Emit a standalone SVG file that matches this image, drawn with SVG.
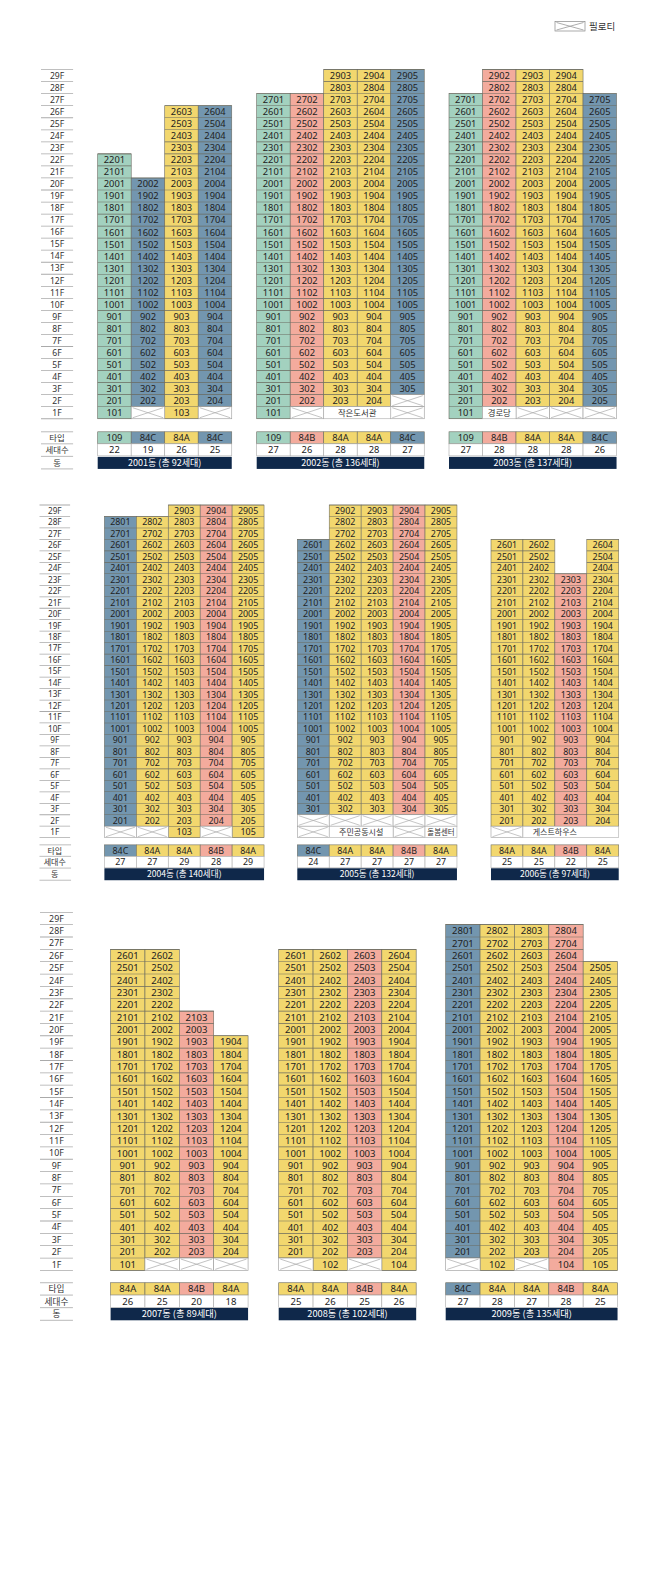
<svg xmlns="http://www.w3.org/2000/svg" width="648" height="1587" viewBox="0 0 648 1587">
<style>
.t{font-family:"Noto Sans","Noto Sans CJK KR",sans-serif;font-size:9.3px;text-anchor:middle;fill:#222}
.l{font-family:"Noto Sans","Noto Sans CJK KR",sans-serif;font-size:8.6px;text-anchor:middle;fill:#333}
.k{font-family:"Noto Sans CJK KR",sans-serif;font-size:8.4px;text-anchor:middle;fill:#333}
.G,.B,.Y,.S{stroke:#6b6b60;stroke-width:.6}
.G{fill:#a3d1bf}.B{fill:#7396af}.Y{fill:#f2d76e}.S{fill:#f3ab9d}
.W{fill:#fff;stroke:#aaa;stroke-width:.6}
.d{stroke:#6b6b60;stroke-width:33.4;stroke-dasharray:.6 11.4}
.n{fill:#0f284a}
.nt{font-family:"Noto Sans CJK KR",sans-serif;font-size:9px;text-anchor:middle;fill:#fff}
.ln{stroke:#aaa;stroke-width:.8;fill:none}
</style>
<defs>
<g id="px"><rect width="33.4" height="12" fill="#fff" stroke="#999" stroke-width=".6"/><path d="M1.5 1L31.9 11M1.5 11L31.9 1" stroke="#aaa" stroke-width=".7" fill="none"/></g>
<g id="fl">
<line x1="16" y1="-.4" x2="16" y2="348.4" stroke="#aaa" stroke-width="32" stroke-dasharray=".8 11.2"/>
<g class="l" transform="translate(16,9.2)"><text>29F</text><text y="12">28F</text><text y="24">27F</text><text y="36">26F</text><text y="48">25F</text><text y="60">24F</text><text y="72">23F</text><text y="84">22F</text><text y="96">21F</text><text y="108">20F</text><text y="120">19F</text><text y="132">18F</text><text y="144">17F</text><text y="156">16F</text><text y="168">15F</text><text y="180">14F</text><text y="192">13F</text><text y="204">12F</text><text y="216">11F</text><text y="228">10F</text><text y="240">9F</text><text y="252">8F</text><text y="264">7F</text><text y="276">6F</text><text y="288">5F</text><text y="300">4F</text><text y="312">3F</text><text y="324">2F</text><text y="336">1F</text></g>
</g>
</defs>

<g id="legend"><rect x="555" y="21.5" width="30" height="9.5" fill="#fff" stroke="#888" stroke-width=".7"/><path d="M556.5 22.5L583.5 30M556.5 30L583.5 22.5" stroke="#999" stroke-width=".8" fill="none"/><text x="589" y="30" font-family="Noto Sans CJK KR,sans-serif" font-size="9.5" fill="#333">필로티</text></g>

<!-- Section 1 labels -->
<g id="floors1" transform="translate(41,69.6) scale(1.0033)">
<use href="#fl"/>
<path class="ln" d="M0 361h32M0 373h32M0 385.5h32M0 398h32"/>
<text class="k" x="16" y="370.2">타입</text><text class="k" x="16" y="382.2">세대수</text><text class="k" x="16" y="395">동</text>
</g>

<g id="b2001" transform="translate(97.7,69.6) scale(1.0033)">
<rect class="G" x="0" y="84" width="33.4" height="264"/>
<rect class="B" x="33.4" y="108" width="33.4" height="228"/>
<rect class="Y" x="66.8" y="36" width="33.4" height="312"/>
<rect class="B" x="100.2" y="36" width="33.4" height="300"/>
<line class="d" x1="16.7" y1="83.7" x2="16.7" y2="348"/>
<line class="d" x1="50.1" y1="107.7" x2="50.1" y2="336"/>
<line class="d" x1="83.5" y1="35.7" x2="83.5" y2="348"/>
<line class="d" x1="116.9" y1="35.7" x2="116.9" y2="336"/>
<use href="#px" x="33.4" y="336"/><use href="#px" x="100.2" y="336"/>
<g class="t">
<g transform="translate(16.7,9.4)"><text y="84">2201</text><text y="96">2101</text><text y="108">2001</text><text y="120">1901</text><text y="132">1801</text><text y="144">1701</text><text y="156">1601</text><text y="168">1501</text><text y="180">1401</text><text y="192">1301</text><text y="204">1201</text><text y="216">1101</text><text y="228">1001</text><text y="240">901</text><text y="252">801</text><text y="264">701</text><text y="276">601</text><text y="288">501</text><text y="300">401</text><text y="312">301</text><text y="324">201</text><text y="336">101</text></g>
<g transform="translate(50.1,9.4)"><text y="108">2002</text><text y="120">1902</text><text y="132">1802</text><text y="144">1702</text><text y="156">1602</text><text y="168">1502</text><text y="180">1402</text><text y="192">1302</text><text y="204">1202</text><text y="216">1102</text><text y="228">1002</text><text y="240">902</text><text y="252">802</text><text y="264">702</text><text y="276">602</text><text y="288">502</text><text y="300">402</text><text y="312">302</text><text y="324">202</text></g>
<g transform="translate(83.5,9.4)"><text y="36">2603</text><text y="48">2503</text><text y="60">2403</text><text y="72">2303</text><text y="84">2203</text><text y="96">2103</text><text y="108">2003</text><text y="120">1903</text><text y="132">1803</text><text y="144">1703</text><text y="156">1603</text><text y="168">1503</text><text y="180">1403</text><text y="192">1303</text><text y="204">1203</text><text y="216">1103</text><text y="228">1003</text><text y="240">903</text><text y="252">803</text><text y="264">703</text><text y="276">603</text><text y="288">503</text><text y="300">403</text><text y="312">303</text><text y="324">203</text><text y="336">103</text></g>
<g transform="translate(116.9,9.4)"><text y="36">2604</text><text y="48">2504</text><text y="60">2404</text><text y="72">2304</text><text y="84">2204</text><text y="96">2104</text><text y="108">2004</text><text y="120">1904</text><text y="132">1804</text><text y="144">1704</text><text y="156">1604</text><text y="168">1504</text><text y="180">1404</text><text y="192">1304</text><text y="204">1204</text><text y="216">1104</text><text y="228">1004</text><text y="240">904</text><text y="252">804</text><text y="264">704</text><text y="276">604</text><text y="288">504</text><text y="300">404</text><text y="312">304</text><text y="324">204</text></g>
</g>
<rect class="G" x="0" y="361" width="33.4" height="12"/><rect class="B" x="33.4" y="361" width="33.4" height="12"/><rect class="Y" x="66.8" y="361" width="33.4" height="12"/><rect class="B" x="100.2" y="361" width="33.4" height="12"/>
<rect class="W" x="0" y="373" width="33.4" height="12"/><rect class="W" x="33.4" y="373" width="33.4" height="12"/><rect class="W" x="66.8" y="373" width="33.4" height="12"/><rect class="W" x="100.2" y="373" width="33.4" height="12"/>
<g class="t"><text x="16.7" y="370.3">109</text><text x="50.1" y="370.3">84C</text><text x="83.5" y="370.3">84A</text><text x="116.9" y="370.3">84C</text>
<text x="16.7" y="382.3">22</text><text x="50.1" y="382.3">19</text><text x="83.5" y="382.3">26</text><text x="116.9" y="382.3">25</text></g>
<rect class="n" x="0" y="386" width="133.6" height="12"/><text class="nt" x="66.8" y="395.2">2001동 (총 92세대)</text>
</g>

<g id="b2002" transform="translate(256.7,69.6) scale(1.0033)">
<rect class="G" x="0" y="24" width="33.4" height="324"/>
<rect class="S" x="33.4" y="24" width="33.4" height="312"/>
<rect class="Y" x="66.8" y="0" width="33.4" height="336"/>
<rect class="Y" x="100.2" y="0" width="33.4" height="336"/>
<rect class="B" x="133.6" y="0" width="33.4" height="324"/>
<line class="d" x1="16.7" y1="23.7" x2="16.7" y2="348"/>
<line class="d" x1="50.1" y1="23.7" x2="50.1" y2="336"/>
<line class="d" x1="83.5" y1="-.3" x2="83.5" y2="336"/>
<line class="d" x1="116.9" y1="-.3" x2="116.9" y2="336"/>
<line class="d" x1="150.3" y1="-.3" x2="150.3" y2="324"/>
<use href="#px" x="33.4" y="336"/><use href="#px" x="133.6" y="324"/><use href="#px" x="133.6" y="336"/>
<rect class="W" x="66.8" y="336" width="66.8" height="12"/><text class="k" x="100.2" y="345.1">작은도서관</text>
<g class="t">
<g transform="translate(16.7,9.4)"><text y="24">2701</text><text y="36">2601</text><text y="48">2501</text><text y="60">2401</text><text y="72">2301</text><text y="84">2201</text><text y="96">2101</text><text y="108">2001</text><text y="120">1901</text><text y="132">1801</text><text y="144">1701</text><text y="156">1601</text><text y="168">1501</text><text y="180">1401</text><text y="192">1301</text><text y="204">1201</text><text y="216">1101</text><text y="228">1001</text><text y="240">901</text><text y="252">801</text><text y="264">701</text><text y="276">601</text><text y="288">501</text><text y="300">401</text><text y="312">301</text><text y="324">201</text><text y="336">101</text></g>
<g transform="translate(50.1,9.4)"><text y="24">2702</text><text y="36">2602</text><text y="48">2502</text><text y="60">2402</text><text y="72">2302</text><text y="84">2202</text><text y="96">2102</text><text y="108">2002</text><text y="120">1902</text><text y="132">1802</text><text y="144">1702</text><text y="156">1602</text><text y="168">1502</text><text y="180">1402</text><text y="192">1302</text><text y="204">1202</text><text y="216">1102</text><text y="228">1002</text><text y="240">902</text><text y="252">802</text><text y="264">702</text><text y="276">602</text><text y="288">502</text><text y="300">402</text><text y="312">302</text><text y="324">202</text></g>
<g transform="translate(83.5,9.4)"><text>2903</text><text y="12">2803</text><text y="24">2703</text><text y="36">2603</text><text y="48">2503</text><text y="60">2403</text><text y="72">2303</text><text y="84">2203</text><text y="96">2103</text><text y="108">2003</text><text y="120">1903</text><text y="132">1803</text><text y="144">1703</text><text y="156">1603</text><text y="168">1503</text><text y="180">1403</text><text y="192">1303</text><text y="204">1203</text><text y="216">1103</text><text y="228">1003</text><text y="240">903</text><text y="252">803</text><text y="264">703</text><text y="276">603</text><text y="288">503</text><text y="300">403</text><text y="312">303</text><text y="324">203</text></g>
<g transform="translate(116.9,9.4)"><text>2904</text><text y="12">2804</text><text y="24">2704</text><text y="36">2604</text><text y="48">2504</text><text y="60">2404</text><text y="72">2304</text><text y="84">2204</text><text y="96">2104</text><text y="108">2004</text><text y="120">1904</text><text y="132">1804</text><text y="144">1704</text><text y="156">1604</text><text y="168">1504</text><text y="180">1404</text><text y="192">1304</text><text y="204">1204</text><text y="216">1104</text><text y="228">1004</text><text y="240">904</text><text y="252">804</text><text y="264">704</text><text y="276">604</text><text y="288">504</text><text y="300">404</text><text y="312">304</text><text y="324">204</text></g>
<g transform="translate(150.3,9.4)"><text>2905</text><text y="12">2805</text><text y="24">2705</text><text y="36">2605</text><text y="48">2505</text><text y="60">2405</text><text y="72">2305</text><text y="84">2205</text><text y="96">2105</text><text y="108">2005</text><text y="120">1905</text><text y="132">1805</text><text y="144">1705</text><text y="156">1605</text><text y="168">1505</text><text y="180">1405</text><text y="192">1305</text><text y="204">1205</text><text y="216">1105</text><text y="228">1005</text><text y="240">905</text><text y="252">805</text><text y="264">705</text><text y="276">605</text><text y="288">505</text><text y="300">405</text><text y="312">305</text></g>
</g>
<rect class="G" x="0" y="361" width="33.4" height="12"/><rect class="S" x="33.4" y="361" width="33.4" height="12"/><rect class="Y" x="66.8" y="361" width="33.4" height="12"/><rect class="Y" x="100.2" y="361" width="33.4" height="12"/><rect class="B" x="133.6" y="361" width="33.4" height="12"/>
<rect class="W" x="0" y="373" width="33.4" height="12"/><rect class="W" x="33.4" y="373" width="33.4" height="12"/><rect class="W" x="66.8" y="373" width="33.4" height="12"/><rect class="W" x="100.2" y="373" width="33.4" height="12"/><rect class="W" x="133.6" y="373" width="33.4" height="12"/>
<g class="t"><text x="16.7" y="370.3">109</text><text x="50.1" y="370.3">84B</text><text x="83.5" y="370.3">84A</text><text x="116.9" y="370.3">84A</text><text x="150.3" y="370.3">84C</text>
<text x="16.7" y="382.3">27</text><text x="50.1" y="382.3">26</text><text x="83.5" y="382.3">28</text><text x="116.9" y="382.3">28</text><text x="150.3" y="382.3">27</text></g>
<rect class="n" x="0" y="386" width="167" height="12"/><text class="nt" x="83.5" y="395.2">2002동 (총 136세대)</text>
</g>

<g id="b2003" transform="translate(449,69.6) scale(1.0033)">
<rect class="G" x="0" y="24" width="33.4" height="324"/>
<rect class="S" x="33.4" y="0" width="33.4" height="336"/>
<rect class="Y" x="66.8" y="0" width="33.4" height="336"/>
<rect class="Y" x="100.2" y="0" width="33.4" height="336"/>
<rect class="B" x="133.6" y="24" width="33.4" height="312"/>
<line class="d" x1="16.7" y1="23.7" x2="16.7" y2="348"/>
<line class="d" x1="50.1" y1="-.3" x2="50.1" y2="336"/>
<line class="d" x1="83.5" y1="-.3" x2="83.5" y2="336"/>
<line class="d" x1="116.9" y1="-.3" x2="116.9" y2="336"/>
<line class="d" x1="150.3" y1="23.7" x2="150.3" y2="336"/>
<use href="#px" x="66.8" y="336"/><use href="#px" x="100.2" y="336"/><use href="#px" x="133.6" y="336"/>
<rect class="W" x="33.4" y="336" width="33.4" height="12"/><text class="k" x="50.1" y="345.1">경로당</text>
<g class="t">
<g transform="translate(16.7,9.4)"><text y="24">2701</text><text y="36">2601</text><text y="48">2501</text><text y="60">2401</text><text y="72">2301</text><text y="84">2201</text><text y="96">2101</text><text y="108">2001</text><text y="120">1901</text><text y="132">1801</text><text y="144">1701</text><text y="156">1601</text><text y="168">1501</text><text y="180">1401</text><text y="192">1301</text><text y="204">1201</text><text y="216">1101</text><text y="228">1001</text><text y="240">901</text><text y="252">801</text><text y="264">701</text><text y="276">601</text><text y="288">501</text><text y="300">401</text><text y="312">301</text><text y="324">201</text><text y="336">101</text></g>
<g transform="translate(50.1,9.4)"><text>2902</text><text y="12">2802</text><text y="24">2702</text><text y="36">2602</text><text y="48">2502</text><text y="60">2402</text><text y="72">2302</text><text y="84">2202</text><text y="96">2102</text><text y="108">2002</text><text y="120">1902</text><text y="132">1802</text><text y="144">1702</text><text y="156">1602</text><text y="168">1502</text><text y="180">1402</text><text y="192">1302</text><text y="204">1202</text><text y="216">1102</text><text y="228">1002</text><text y="240">902</text><text y="252">802</text><text y="264">702</text><text y="276">602</text><text y="288">502</text><text y="300">402</text><text y="312">302</text><text y="324">202</text></g>
<g transform="translate(83.5,9.4)"><text>2903</text><text y="12">2803</text><text y="24">2703</text><text y="36">2603</text><text y="48">2503</text><text y="60">2403</text><text y="72">2303</text><text y="84">2203</text><text y="96">2103</text><text y="108">2003</text><text y="120">1903</text><text y="132">1803</text><text y="144">1703</text><text y="156">1603</text><text y="168">1503</text><text y="180">1403</text><text y="192">1303</text><text y="204">1203</text><text y="216">1103</text><text y="228">1003</text><text y="240">903</text><text y="252">803</text><text y="264">703</text><text y="276">603</text><text y="288">503</text><text y="300">403</text><text y="312">303</text><text y="324">203</text></g>
<g transform="translate(116.9,9.4)"><text>2904</text><text y="12">2804</text><text y="24">2704</text><text y="36">2604</text><text y="48">2504</text><text y="60">2404</text><text y="72">2304</text><text y="84">2204</text><text y="96">2104</text><text y="108">2004</text><text y="120">1904</text><text y="132">1804</text><text y="144">1704</text><text y="156">1604</text><text y="168">1504</text><text y="180">1404</text><text y="192">1304</text><text y="204">1204</text><text y="216">1104</text><text y="228">1004</text><text y="240">904</text><text y="252">804</text><text y="264">704</text><text y="276">604</text><text y="288">504</text><text y="300">404</text><text y="312">304</text><text y="324">204</text></g>
<g transform="translate(150.3,9.4)"><text y="24">2705</text><text y="36">2605</text><text y="48">2505</text><text y="60">2405</text><text y="72">2305</text><text y="84">2205</text><text y="96">2105</text><text y="108">2005</text><text y="120">1905</text><text y="132">1805</text><text y="144">1705</text><text y="156">1605</text><text y="168">1505</text><text y="180">1405</text><text y="192">1305</text><text y="204">1205</text><text y="216">1105</text><text y="228">1005</text><text y="240">905</text><text y="252">805</text><text y="264">705</text><text y="276">605</text><text y="288">505</text><text y="300">405</text><text y="312">305</text><text y="324">205</text></g>
</g>
<rect class="G" x="0" y="361" width="33.4" height="12"/><rect class="S" x="33.4" y="361" width="33.4" height="12"/><rect class="Y" x="66.8" y="361" width="33.4" height="12"/><rect class="Y" x="100.2" y="361" width="33.4" height="12"/><rect class="B" x="133.6" y="361" width="33.4" height="12"/>
<rect class="W" x="0" y="373" width="33.4" height="12"/><rect class="W" x="33.4" y="373" width="33.4" height="12"/><rect class="W" x="66.8" y="373" width="33.4" height="12"/><rect class="W" x="100.2" y="373" width="33.4" height="12"/><rect class="W" x="133.6" y="373" width="33.4" height="12"/>
<g class="t"><text x="16.7" y="370.3">109</text><text x="50.1" y="370.3">84B</text><text x="83.5" y="370.3">84A</text><text x="116.9" y="370.3">84A</text><text x="150.3" y="370.3">84C</text>
<text x="16.7" y="382.3">27</text><text x="50.1" y="382.3">28</text><text x="83.5" y="382.3">28</text><text x="116.9" y="382.3">28</text><text x="150.3" y="382.3">26</text></g>
<rect class="n" x="0" y="386" width="167" height="12"/><text class="nt" x="83.5" y="395.2">2003동 (총 137세대)</text>
</g>

<!-- Section 2 -->
<g id="floors2" transform="translate(39.5,505) scale(.956)">
<use href="#fl"/>
<path class="ln" d="M0 355.5h33M0 367.5h33M0 379.8h33M0 392.5h33"/>
<text class="k" x="16" y="364.7">타입</text><text class="k" x="16" y="376.7">세대수</text><text class="k" x="16" y="389.3">동</text>
</g>

<g id="b2004" transform="translate(104.4,505) scale(.956)">
<rect class="B" x="0" y="12" width="33.4" height="324"/>
<rect class="Y" x="33.4" y="12" width="33.4" height="324"/>
<rect class="Y" x="66.8" y="0" width="33.4" height="348"/>
<rect class="S" x="100.2" y="0" width="33.4" height="336"/>
<rect class="Y" x="133.6" y="0" width="33.4" height="348"/>
<line class="d" x1="16.7" y1="11.7" x2="16.7" y2="336"/>
<line class="d" x1="50.1" y1="11.7" x2="50.1" y2="336"/>
<line class="d" x1="83.5" y1="-.3" x2="83.5" y2="348"/>
<line class="d" x1="116.9" y1="-.3" x2="116.9" y2="336"/>
<line class="d" x1="150.3" y1="-.3" x2="150.3" y2="348"/>
<use href="#px" x="0" y="336"/><use href="#px" x="33.4" y="336"/><use href="#px" x="100.2" y="336"/>
<g class="t">
<g transform="translate(16.7,9.4)"><text y="12">2801</text><text y="24">2701</text><text y="36">2601</text><text y="48">2501</text><text y="60">2401</text><text y="72">2301</text><text y="84">2201</text><text y="96">2101</text><text y="108">2001</text><text y="120">1901</text><text y="132">1801</text><text y="144">1701</text><text y="156">1601</text><text y="168">1501</text><text y="180">1401</text><text y="192">1301</text><text y="204">1201</text><text y="216">1101</text><text y="228">1001</text><text y="240">901</text><text y="252">801</text><text y="264">701</text><text y="276">601</text><text y="288">501</text><text y="300">401</text><text y="312">301</text><text y="324">201</text></g>
<g transform="translate(50.1,9.4)"><text y="12">2802</text><text y="24">2702</text><text y="36">2602</text><text y="48">2502</text><text y="60">2402</text><text y="72">2302</text><text y="84">2202</text><text y="96">2102</text><text y="108">2002</text><text y="120">1902</text><text y="132">1802</text><text y="144">1702</text><text y="156">1602</text><text y="168">1502</text><text y="180">1402</text><text y="192">1302</text><text y="204">1202</text><text y="216">1102</text><text y="228">1002</text><text y="240">902</text><text y="252">802</text><text y="264">702</text><text y="276">602</text><text y="288">502</text><text y="300">402</text><text y="312">302</text><text y="324">202</text></g>
<g transform="translate(83.5,9.4)"><text>2903</text><text y="12">2803</text><text y="24">2703</text><text y="36">2603</text><text y="48">2503</text><text y="60">2403</text><text y="72">2303</text><text y="84">2203</text><text y="96">2103</text><text y="108">2003</text><text y="120">1903</text><text y="132">1803</text><text y="144">1703</text><text y="156">1603</text><text y="168">1503</text><text y="180">1403</text><text y="192">1303</text><text y="204">1203</text><text y="216">1103</text><text y="228">1003</text><text y="240">903</text><text y="252">803</text><text y="264">703</text><text y="276">603</text><text y="288">503</text><text y="300">403</text><text y="312">303</text><text y="324">203</text><text y="336">103</text></g>
<g transform="translate(116.9,9.4)"><text>2904</text><text y="12">2804</text><text y="24">2704</text><text y="36">2604</text><text y="48">2504</text><text y="60">2404</text><text y="72">2304</text><text y="84">2204</text><text y="96">2104</text><text y="108">2004</text><text y="120">1904</text><text y="132">1804</text><text y="144">1704</text><text y="156">1604</text><text y="168">1504</text><text y="180">1404</text><text y="192">1304</text><text y="204">1204</text><text y="216">1104</text><text y="228">1004</text><text y="240">904</text><text y="252">804</text><text y="264">704</text><text y="276">604</text><text y="288">504</text><text y="300">404</text><text y="312">304</text><text y="324">204</text></g>
<g transform="translate(150.3,9.4)"><text>2905</text><text y="12">2805</text><text y="24">2705</text><text y="36">2605</text><text y="48">2505</text><text y="60">2405</text><text y="72">2305</text><text y="84">2205</text><text y="96">2105</text><text y="108">2005</text><text y="120">1905</text><text y="132">1805</text><text y="144">1705</text><text y="156">1605</text><text y="168">1505</text><text y="180">1405</text><text y="192">1305</text><text y="204">1205</text><text y="216">1105</text><text y="228">1005</text><text y="240">905</text><text y="252">805</text><text y="264">705</text><text y="276">605</text><text y="288">505</text><text y="300">405</text><text y="312">305</text><text y="324">205</text><text y="336">105</text></g>
</g>
<rect class="B" x="0" y="355.5" width="33.4" height="12"/><rect class="Y" x="33.4" y="355.5" width="33.4" height="12"/><rect class="Y" x="66.8" y="355.5" width="33.4" height="12"/><rect class="S" x="100.2" y="355.5" width="33.4" height="12"/><rect class="Y" x="133.6" y="355.5" width="33.4" height="12"/>
<rect class="W" x="0" y="367.5" width="33.4" height="12"/><rect class="W" x="33.4" y="367.5" width="33.4" height="12"/><rect class="W" x="66.8" y="367.5" width="33.4" height="12"/><rect class="W" x="100.2" y="367.5" width="33.4" height="12"/><rect class="W" x="133.6" y="367.5" width="33.4" height="12"/>
<g class="t"><text x="16.7" y="364.8">84C</text><text x="50.1" y="364.8">84A</text><text x="83.5" y="364.8">84A</text><text x="116.9" y="364.8">84B</text><text x="150.3" y="364.8">84A</text>
<text x="16.7" y="376.8">27</text><text x="50.1" y="376.8">27</text><text x="83.5" y="376.8">29</text><text x="116.9" y="376.8">28</text><text x="150.3" y="376.8">29</text></g>
<rect class="n" x="0" y="380" width="167" height="12.5"/><text class="nt" x="83.5" y="389.4">2004동 (총 140세대)</text>
</g>

<g id="b2005" transform="translate(297.3,505) scale(.956)">
<rect class="B" x="0" y="36" width="33.4" height="288"/>
<rect class="Y" x="33.4" y="0" width="33.4" height="324"/>
<rect class="Y" x="66.8" y="0" width="33.4" height="324"/>
<rect class="S" x="100.2" y="0" width="33.4" height="324"/>
<rect class="Y" x="133.6" y="0" width="33.4" height="324"/>
<line class="d" x1="16.7" y1="35.7" x2="16.7" y2="324"/>
<line class="d" x1="50.1" y1="-.3" x2="50.1" y2="324"/>
<line class="d" x1="83.5" y1="-.3" x2="83.5" y2="324"/>
<line class="d" x1="116.9" y1="-.3" x2="116.9" y2="324"/>
<line class="d" x1="150.3" y1="-.3" x2="150.3" y2="324"/>
<use href="#px" x="0" y="324"/><use href="#px" x="33.4" y="324"/><use href="#px" x="66.8" y="324"/><use href="#px" x="100.2" y="324"/><use href="#px" x="133.6" y="324"/>
<use href="#px" x="0" y="336"/><use href="#px" x="100.2" y="336"/>
<rect class="W" x="33.4" y="336" width="66.8" height="12"/><text class="k" x="66.8" y="345.1">주민공동시설</text>
<rect class="W" x="133.6" y="336" width="33.4" height="12"/><text class="k" x="150.3" y="345.1" style="font-size:7.8px">돌봄센터</text>
<g class="t">
<g transform="translate(16.7,9.4)"><text y="36">2601</text><text y="48">2501</text><text y="60">2401</text><text y="72">2301</text><text y="84">2201</text><text y="96">2101</text><text y="108">2001</text><text y="120">1901</text><text y="132">1801</text><text y="144">1701</text><text y="156">1601</text><text y="168">1501</text><text y="180">1401</text><text y="192">1301</text><text y="204">1201</text><text y="216">1101</text><text y="228">1001</text><text y="240">901</text><text y="252">801</text><text y="264">701</text><text y="276">601</text><text y="288">501</text><text y="300">401</text><text y="312">301</text></g>
<g transform="translate(50.1,9.4)"><text>2902</text><text y="12">2802</text><text y="24">2702</text><text y="36">2602</text><text y="48">2502</text><text y="60">2402</text><text y="72">2302</text><text y="84">2202</text><text y="96">2102</text><text y="108">2002</text><text y="120">1902</text><text y="132">1802</text><text y="144">1702</text><text y="156">1602</text><text y="168">1502</text><text y="180">1402</text><text y="192">1302</text><text y="204">1202</text><text y="216">1102</text><text y="228">1002</text><text y="240">902</text><text y="252">802</text><text y="264">702</text><text y="276">602</text><text y="288">502</text><text y="300">402</text><text y="312">302</text></g>
<g transform="translate(83.5,9.4)"><text>2903</text><text y="12">2803</text><text y="24">2703</text><text y="36">2603</text><text y="48">2503</text><text y="60">2403</text><text y="72">2303</text><text y="84">2203</text><text y="96">2103</text><text y="108">2003</text><text y="120">1903</text><text y="132">1803</text><text y="144">1703</text><text y="156">1603</text><text y="168">1503</text><text y="180">1403</text><text y="192">1303</text><text y="204">1203</text><text y="216">1103</text><text y="228">1003</text><text y="240">903</text><text y="252">803</text><text y="264">703</text><text y="276">603</text><text y="288">503</text><text y="300">403</text><text y="312">303</text></g>
<g transform="translate(116.9,9.4)"><text>2904</text><text y="12">2804</text><text y="24">2704</text><text y="36">2604</text><text y="48">2504</text><text y="60">2404</text><text y="72">2304</text><text y="84">2204</text><text y="96">2104</text><text y="108">2004</text><text y="120">1904</text><text y="132">1804</text><text y="144">1704</text><text y="156">1604</text><text y="168">1504</text><text y="180">1404</text><text y="192">1304</text><text y="204">1204</text><text y="216">1104</text><text y="228">1004</text><text y="240">904</text><text y="252">804</text><text y="264">704</text><text y="276">604</text><text y="288">504</text><text y="300">404</text><text y="312">304</text></g>
<g transform="translate(150.3,9.4)"><text>2905</text><text y="12">2805</text><text y="24">2705</text><text y="36">2605</text><text y="48">2505</text><text y="60">2405</text><text y="72">2305</text><text y="84">2205</text><text y="96">2105</text><text y="108">2005</text><text y="120">1905</text><text y="132">1805</text><text y="144">1705</text><text y="156">1605</text><text y="168">1505</text><text y="180">1405</text><text y="192">1305</text><text y="204">1205</text><text y="216">1105</text><text y="228">1005</text><text y="240">905</text><text y="252">805</text><text y="264">705</text><text y="276">605</text><text y="288">505</text><text y="300">405</text><text y="312">305</text></g>
</g>
<rect class="B" x="0" y="355.5" width="33.4" height="12"/><rect class="Y" x="33.4" y="355.5" width="33.4" height="12"/><rect class="Y" x="66.8" y="355.5" width="33.4" height="12"/><rect class="S" x="100.2" y="355.5" width="33.4" height="12"/><rect class="Y" x="133.6" y="355.5" width="33.4" height="12"/>
<rect class="W" x="0" y="367.5" width="33.4" height="12"/><rect class="W" x="33.4" y="367.5" width="33.4" height="12"/><rect class="W" x="66.8" y="367.5" width="33.4" height="12"/><rect class="W" x="100.2" y="367.5" width="33.4" height="12"/><rect class="W" x="133.6" y="367.5" width="33.4" height="12"/>
<g class="t"><text x="16.7" y="364.8">84C</text><text x="50.1" y="364.8">84A</text><text x="83.5" y="364.8">84A</text><text x="116.9" y="364.8">84B</text><text x="150.3" y="364.8">84A</text>
<text x="16.7" y="376.8">24</text><text x="50.1" y="376.8">27</text><text x="83.5" y="376.8">27</text><text x="116.9" y="376.8">27</text><text x="150.3" y="376.8">27</text></g>
<rect class="n" x="0" y="380" width="167" height="12.5"/><text class="nt" x="83.5" y="389.4">2005동 (총 132세대)</text>
</g>

<g id="b2006" transform="translate(491,505) scale(.956)">
<rect class="Y" x="0" y="36" width="33.4" height="300"/>
<rect class="Y" x="33.4" y="36" width="33.4" height="300"/>
<rect class="S" x="66.8" y="72" width="33.4" height="264"/>
<rect class="Y" x="100.2" y="36" width="33.4" height="300"/>
<line class="d" x1="16.7" y1="35.7" x2="16.7" y2="336"/>
<line class="d" x1="50.1" y1="35.7" x2="50.1" y2="336"/>
<line class="d" x1="83.5" y1="71.7" x2="83.5" y2="336"/>
<line class="d" x1="116.9" y1="35.7" x2="116.9" y2="336"/>
<use href="#px" x="0" y="336"/>
<rect class="W" x="33.4" y="336" width="100.2" height="12"/><text class="k" x="66.8" y="345.1">게스트하우스</text>
<g class="t">
<g transform="translate(16.7,9.4)"><text y="36">2601</text><text y="48">2501</text><text y="60">2401</text><text y="72">2301</text><text y="84">2201</text><text y="96">2101</text><text y="108">2001</text><text y="120">1901</text><text y="132">1801</text><text y="144">1701</text><text y="156">1601</text><text y="168">1501</text><text y="180">1401</text><text y="192">1301</text><text y="204">1201</text><text y="216">1101</text><text y="228">1001</text><text y="240">901</text><text y="252">801</text><text y="264">701</text><text y="276">601</text><text y="288">501</text><text y="300">401</text><text y="312">301</text><text y="324">201</text></g>
<g transform="translate(50.1,9.4)"><text y="36">2602</text><text y="48">2502</text><text y="60">2402</text><text y="72">2302</text><text y="84">2202</text><text y="96">2102</text><text y="108">2002</text><text y="120">1902</text><text y="132">1802</text><text y="144">1702</text><text y="156">1602</text><text y="168">1502</text><text y="180">1402</text><text y="192">1302</text><text y="204">1202</text><text y="216">1102</text><text y="228">1002</text><text y="240">902</text><text y="252">802</text><text y="264">702</text><text y="276">602</text><text y="288">502</text><text y="300">402</text><text y="312">302</text><text y="324">202</text></g>
<g transform="translate(83.5,9.4)"><text y="72">2303</text><text y="84">2203</text><text y="96">2103</text><text y="108">2003</text><text y="120">1903</text><text y="132">1803</text><text y="144">1703</text><text y="156">1603</text><text y="168">1503</text><text y="180">1403</text><text y="192">1303</text><text y="204">1203</text><text y="216">1103</text><text y="228">1003</text><text y="240">903</text><text y="252">803</text><text y="264">703</text><text y="276">603</text><text y="288">503</text><text y="300">403</text><text y="312">303</text><text y="324">203</text></g>
<g transform="translate(116.9,9.4)"><text y="36">2604</text><text y="48">2504</text><text y="60">2404</text><text y="72">2304</text><text y="84">2204</text><text y="96">2104</text><text y="108">2004</text><text y="120">1904</text><text y="132">1804</text><text y="144">1704</text><text y="156">1604</text><text y="168">1504</text><text y="180">1404</text><text y="192">1304</text><text y="204">1204</text><text y="216">1104</text><text y="228">1004</text><text y="240">904</text><text y="252">804</text><text y="264">704</text><text y="276">604</text><text y="288">504</text><text y="300">404</text><text y="312">304</text><text y="324">204</text></g>
</g>
<rect class="Y" x="0" y="355.5" width="33.4" height="12"/><rect class="Y" x="33.4" y="355.5" width="33.4" height="12"/><rect class="S" x="66.8" y="355.5" width="33.4" height="12"/><rect class="Y" x="100.2" y="355.5" width="33.4" height="12"/>
<rect class="W" x="0" y="367.5" width="33.4" height="12"/><rect class="W" x="33.4" y="367.5" width="33.4" height="12"/><rect class="W" x="66.8" y="367.5" width="33.4" height="12"/><rect class="W" x="100.2" y="367.5" width="33.4" height="12"/>
<g class="t"><text x="16.7" y="364.8">84A</text><text x="50.1" y="364.8">84A</text><text x="83.5" y="364.8">84B</text><text x="116.9" y="364.8">84A</text>
<text x="16.7" y="376.8">25</text><text x="50.1" y="376.8">25</text><text x="83.5" y="376.8">22</text><text x="116.9" y="376.8">25</text></g>
<rect class="n" x="0" y="380" width="133.6" height="12.5"/><text class="nt" x="66.8" y="389.4">2006동 (총 97세대)</text>
</g>

<!-- Section 3 -->
<g id="floors3" transform="translate(40,912.3) scale(1.029)">
<use href="#fl"/>
<path class="ln" d="M0 360h32M0 372h32M0 384.2h32M0 396.5h32"/>
<text class="k" x="16" y="369.2">타입</text><text class="k" x="16" y="381.2">세대수</text><text class="k" x="16" y="393.6">동</text>
</g>

<g id="b2007" transform="translate(110.6,912.3) scale(1.029)">
<rect class="Y" x="0" y="36" width="33.4" height="312"/>
<rect class="Y" x="33.4" y="36" width="33.4" height="300"/>
<rect class="S" x="66.8" y="96" width="33.4" height="240"/>
<rect class="Y" x="100.2" y="120" width="33.4" height="216"/>
<line class="d" x1="16.7" y1="35.7" x2="16.7" y2="348"/>
<line class="d" x1="50.1" y1="35.7" x2="50.1" y2="336"/>
<line class="d" x1="83.5" y1="95.7" x2="83.5" y2="336"/>
<line class="d" x1="116.9" y1="119.7" x2="116.9" y2="336"/>
<use href="#px" x="33.4" y="336"/><use href="#px" x="66.8" y="336"/><use href="#px" x="100.2" y="336"/>
<g class="t">
<g transform="translate(16.7,9.4)"><text y="36">2601</text><text y="48">2501</text><text y="60">2401</text><text y="72">2301</text><text y="84">2201</text><text y="96">2101</text><text y="108">2001</text><text y="120">1901</text><text y="132">1801</text><text y="144">1701</text><text y="156">1601</text><text y="168">1501</text><text y="180">1401</text><text y="192">1301</text><text y="204">1201</text><text y="216">1101</text><text y="228">1001</text><text y="240">901</text><text y="252">801</text><text y="264">701</text><text y="276">601</text><text y="288">501</text><text y="300">401</text><text y="312">301</text><text y="324">201</text><text y="336">101</text></g>
<g transform="translate(50.1,9.4)"><text y="36">2602</text><text y="48">2502</text><text y="60">2402</text><text y="72">2302</text><text y="84">2202</text><text y="96">2102</text><text y="108">2002</text><text y="120">1902</text><text y="132">1802</text><text y="144">1702</text><text y="156">1602</text><text y="168">1502</text><text y="180">1402</text><text y="192">1302</text><text y="204">1202</text><text y="216">1102</text><text y="228">1002</text><text y="240">902</text><text y="252">802</text><text y="264">702</text><text y="276">602</text><text y="288">502</text><text y="300">402</text><text y="312">302</text><text y="324">202</text></g>
<g transform="translate(83.5,9.4)"><text y="96">2103</text><text y="108">2003</text><text y="120">1903</text><text y="132">1803</text><text y="144">1703</text><text y="156">1603</text><text y="168">1503</text><text y="180">1403</text><text y="192">1303</text><text y="204">1203</text><text y="216">1103</text><text y="228">1003</text><text y="240">903</text><text y="252">803</text><text y="264">703</text><text y="276">603</text><text y="288">503</text><text y="300">403</text><text y="312">303</text><text y="324">203</text></g>
<g transform="translate(116.9,9.4)"><text y="120">1904</text><text y="132">1804</text><text y="144">1704</text><text y="156">1604</text><text y="168">1504</text><text y="180">1404</text><text y="192">1304</text><text y="204">1204</text><text y="216">1104</text><text y="228">1004</text><text y="240">904</text><text y="252">804</text><text y="264">704</text><text y="276">604</text><text y="288">504</text><text y="300">404</text><text y="312">304</text><text y="324">204</text></g>
</g>
<rect class="Y" x="0" y="360" width="33.4" height="12"/><rect class="Y" x="33.4" y="360" width="33.4" height="12"/><rect class="S" x="66.8" y="360" width="33.4" height="12"/><rect class="Y" x="100.2" y="360" width="33.4" height="12"/>
<rect class="W" x="0" y="372" width="33.4" height="12"/><rect class="W" x="33.4" y="372" width="33.4" height="12"/><rect class="W" x="66.8" y="372" width="33.4" height="12"/><rect class="W" x="100.2" y="372" width="33.4" height="12"/>
<g class="t"><text x="16.7" y="369.3">84A</text><text x="50.1" y="369.3">84A</text><text x="83.5" y="369.3">84B</text><text x="116.9" y="369.3">84A</text>
<text x="16.7" y="381.3">26</text><text x="50.1" y="381.3">25</text><text x="83.5" y="381.3">20</text><text x="116.9" y="381.3">18</text></g>
<rect class="n" x="0" y="384.5" width="133.6" height="12"/><text class="nt" x="66.8" y="393.7">2007동 (총 89세대)</text>
</g>

<g id="b2008" transform="translate(278.7,912.3) scale(1.029)">
<rect class="Y" x="0" y="36" width="33.4" height="300"/>
<rect class="Y" x="33.4" y="36" width="33.4" height="312"/>
<rect class="S" x="66.8" y="36" width="33.4" height="300"/>
<rect class="Y" x="100.2" y="36" width="33.4" height="312"/>
<line class="d" x1="16.7" y1="35.7" x2="16.7" y2="336"/>
<line class="d" x1="50.1" y1="35.7" x2="50.1" y2="348"/>
<line class="d" x1="83.5" y1="35.7" x2="83.5" y2="336"/>
<line class="d" x1="116.9" y1="35.7" x2="116.9" y2="348"/>
<use href="#px" x="0" y="336"/><use href="#px" x="66.8" y="336"/>
<g class="t">
<g transform="translate(16.7,9.4)"><text y="36">2601</text><text y="48">2501</text><text y="60">2401</text><text y="72">2301</text><text y="84">2201</text><text y="96">2101</text><text y="108">2001</text><text y="120">1901</text><text y="132">1801</text><text y="144">1701</text><text y="156">1601</text><text y="168">1501</text><text y="180">1401</text><text y="192">1301</text><text y="204">1201</text><text y="216">1101</text><text y="228">1001</text><text y="240">901</text><text y="252">801</text><text y="264">701</text><text y="276">601</text><text y="288">501</text><text y="300">401</text><text y="312">301</text><text y="324">201</text></g>
<g transform="translate(50.1,9.4)"><text y="36">2602</text><text y="48">2502</text><text y="60">2402</text><text y="72">2302</text><text y="84">2202</text><text y="96">2102</text><text y="108">2002</text><text y="120">1902</text><text y="132">1802</text><text y="144">1702</text><text y="156">1602</text><text y="168">1502</text><text y="180">1402</text><text y="192">1302</text><text y="204">1202</text><text y="216">1102</text><text y="228">1002</text><text y="240">902</text><text y="252">802</text><text y="264">702</text><text y="276">602</text><text y="288">502</text><text y="300">402</text><text y="312">302</text><text y="324">202</text><text y="336">102</text></g>
<g transform="translate(83.5,9.4)"><text y="36">2603</text><text y="48">2503</text><text y="60">2403</text><text y="72">2303</text><text y="84">2203</text><text y="96">2103</text><text y="108">2003</text><text y="120">1903</text><text y="132">1803</text><text y="144">1703</text><text y="156">1603</text><text y="168">1503</text><text y="180">1403</text><text y="192">1303</text><text y="204">1203</text><text y="216">1103</text><text y="228">1003</text><text y="240">903</text><text y="252">803</text><text y="264">703</text><text y="276">603</text><text y="288">503</text><text y="300">403</text><text y="312">303</text><text y="324">203</text></g>
<g transform="translate(116.9,9.4)"><text y="36">2604</text><text y="48">2504</text><text y="60">2404</text><text y="72">2304</text><text y="84">2204</text><text y="96">2104</text><text y="108">2004</text><text y="120">1904</text><text y="132">1804</text><text y="144">1704</text><text y="156">1604</text><text y="168">1504</text><text y="180">1404</text><text y="192">1304</text><text y="204">1204</text><text y="216">1104</text><text y="228">1004</text><text y="240">904</text><text y="252">804</text><text y="264">704</text><text y="276">604</text><text y="288">504</text><text y="300">404</text><text y="312">304</text><text y="324">204</text><text y="336">104</text></g>
</g>
<rect class="Y" x="0" y="360" width="33.4" height="12"/><rect class="Y" x="33.4" y="360" width="33.4" height="12"/><rect class="S" x="66.8" y="360" width="33.4" height="12"/><rect class="Y" x="100.2" y="360" width="33.4" height="12"/>
<rect class="W" x="0" y="372" width="33.4" height="12"/><rect class="W" x="33.4" y="372" width="33.4" height="12"/><rect class="W" x="66.8" y="372" width="33.4" height="12"/><rect class="W" x="100.2" y="372" width="33.4" height="12"/>
<g class="t"><text x="16.7" y="369.3">84A</text><text x="50.1" y="369.3">84A</text><text x="83.5" y="369.3">84B</text><text x="116.9" y="369.3">84A</text>
<text x="16.7" y="381.3">25</text><text x="50.1" y="381.3">26</text><text x="83.5" y="381.3">25</text><text x="116.9" y="381.3">26</text></g>
<rect class="n" x="0" y="384.5" width="133.6" height="12"/><text class="nt" x="66.8" y="393.7">2008동 (총 102세대)</text>
</g>

<g id="b2009" transform="translate(445.7,912.3) scale(1.029)">
<rect class="B" x="0" y="12" width="33.4" height="324"/>
<rect class="Y" x="33.4" y="12" width="33.4" height="336"/>
<rect class="Y" x="66.8" y="12" width="33.4" height="324"/>
<rect class="S" x="100.2" y="12" width="33.4" height="336"/>
<rect class="Y" x="133.6" y="48" width="33.4" height="300"/>
<line class="d" x1="16.7" y1="11.7" x2="16.7" y2="336"/>
<line class="d" x1="50.1" y1="11.7" x2="50.1" y2="348"/>
<line class="d" x1="83.5" y1="11.7" x2="83.5" y2="336"/>
<line class="d" x1="116.9" y1="11.7" x2="116.9" y2="348"/>
<line class="d" x1="150.3" y1="47.7" x2="150.3" y2="348"/>
<use href="#px" x="0" y="336"/><use href="#px" x="66.8" y="336"/>
<g class="t">
<g transform="translate(16.7,9.4)"><text y="12">2801</text><text y="24">2701</text><text y="36">2601</text><text y="48">2501</text><text y="60">2401</text><text y="72">2301</text><text y="84">2201</text><text y="96">2101</text><text y="108">2001</text><text y="120">1901</text><text y="132">1801</text><text y="144">1701</text><text y="156">1601</text><text y="168">1501</text><text y="180">1401</text><text y="192">1301</text><text y="204">1201</text><text y="216">1101</text><text y="228">1001</text><text y="240">901</text><text y="252">801</text><text y="264">701</text><text y="276">601</text><text y="288">501</text><text y="300">401</text><text y="312">301</text><text y="324">201</text></g>
<g transform="translate(50.1,9.4)"><text y="12">2802</text><text y="24">2702</text><text y="36">2602</text><text y="48">2502</text><text y="60">2402</text><text y="72">2302</text><text y="84">2202</text><text y="96">2102</text><text y="108">2002</text><text y="120">1902</text><text y="132">1802</text><text y="144">1702</text><text y="156">1602</text><text y="168">1502</text><text y="180">1402</text><text y="192">1302</text><text y="204">1202</text><text y="216">1102</text><text y="228">1002</text><text y="240">902</text><text y="252">802</text><text y="264">702</text><text y="276">602</text><text y="288">502</text><text y="300">402</text><text y="312">302</text><text y="324">202</text><text y="336">102</text></g>
<g transform="translate(83.5,9.4)"><text y="12">2803</text><text y="24">2703</text><text y="36">2603</text><text y="48">2503</text><text y="60">2403</text><text y="72">2303</text><text y="84">2203</text><text y="96">2103</text><text y="108">2003</text><text y="120">1903</text><text y="132">1803</text><text y="144">1703</text><text y="156">1603</text><text y="168">1503</text><text y="180">1403</text><text y="192">1303</text><text y="204">1203</text><text y="216">1103</text><text y="228">1003</text><text y="240">903</text><text y="252">803</text><text y="264">703</text><text y="276">603</text><text y="288">503</text><text y="300">403</text><text y="312">303</text><text y="324">203</text></g>
<g transform="translate(116.9,9.4)"><text y="12">2804</text><text y="24">2704</text><text y="36">2604</text><text y="48">2504</text><text y="60">2404</text><text y="72">2304</text><text y="84">2204</text><text y="96">2104</text><text y="108">2004</text><text y="120">1904</text><text y="132">1804</text><text y="144">1704</text><text y="156">1604</text><text y="168">1504</text><text y="180">1404</text><text y="192">1304</text><text y="204">1204</text><text y="216">1104</text><text y="228">1004</text><text y="240">904</text><text y="252">804</text><text y="264">704</text><text y="276">604</text><text y="288">504</text><text y="300">404</text><text y="312">304</text><text y="324">204</text><text y="336">104</text></g>
<g transform="translate(150.3,9.4)"><text y="48">2505</text><text y="60">2405</text><text y="72">2305</text><text y="84">2205</text><text y="96">2105</text><text y="108">2005</text><text y="120">1905</text><text y="132">1805</text><text y="144">1705</text><text y="156">1605</text><text y="168">1505</text><text y="180">1405</text><text y="192">1305</text><text y="204">1205</text><text y="216">1105</text><text y="228">1005</text><text y="240">905</text><text y="252">805</text><text y="264">705</text><text y="276">605</text><text y="288">505</text><text y="300">405</text><text y="312">305</text><text y="324">205</text><text y="336">105</text></g>
</g>
<rect class="B" x="0" y="360" width="33.4" height="12"/><rect class="Y" x="33.4" y="360" width="33.4" height="12"/><rect class="Y" x="66.8" y="360" width="33.4" height="12"/><rect class="S" x="100.2" y="360" width="33.4" height="12"/><rect class="Y" x="133.6" y="360" width="33.4" height="12"/>
<rect class="W" x="0" y="372" width="33.4" height="12"/><rect class="W" x="33.4" y="372" width="33.4" height="12"/><rect class="W" x="66.8" y="372" width="33.4" height="12"/><rect class="W" x="100.2" y="372" width="33.4" height="12"/><rect class="W" x="133.6" y="372" width="33.4" height="12"/>
<g class="t"><text x="16.7" y="369.3">84C</text><text x="50.1" y="369.3">84A</text><text x="83.5" y="369.3">84A</text><text x="116.9" y="369.3">84B</text><text x="150.3" y="369.3">84A</text>
<text x="16.7" y="381.3">27</text><text x="50.1" y="381.3">28</text><text x="83.5" y="381.3">27</text><text x="116.9" y="381.3">28</text><text x="150.3" y="381.3">25</text></g>
<rect class="n" x="0" y="384.5" width="167" height="12"/><text class="nt" x="83.5" y="393.7">2009동 (총 135세대)</text>
</g>
</svg>
